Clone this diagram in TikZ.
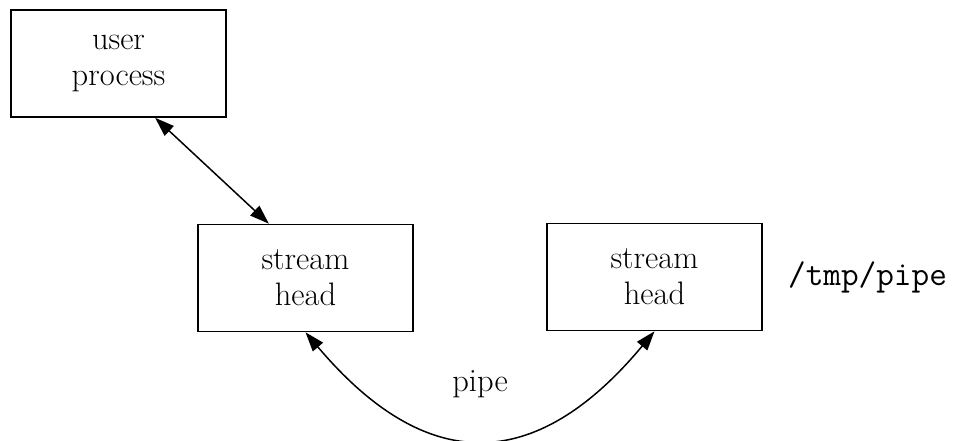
\documentclass[tikz,border=0pt]{standalone}
\usepackage{fontspec}
\usepackage{tikz}
\usetikzlibrary{arrows.meta,positioning}
\tikzset{
  box/.style={draw, line width=0.9pt, minimum width=4.3cm, minimum height=2.14cm, align=center, inner sep=0pt, font=\fontsize{18.5}{20.5}\selectfont},
  lbl/.style={font=\fontsize{18.5}{20.5}\selectfont},
  arr/.style={{Triangle[length=11pt,width=7.5pt]}-{Triangle[length=11pt,width=7.5pt]}, line width=0.85pt},
}
\begin{document}
\begin{tikzpicture}[x=0.02cm, y=-0.02cm]
\useasboundingbox (0,0) rectangle (953,440);
\node[box] (user) at (118.5,63.5) {user\\process};
\node[box] (head1) at (305.5,278) {stream\\head};
\node[box] (head2) at (654.5,277) {stream\\head};
\node[lbl, font=\fontsize{19.5}{20.5}\ttfamily, inner sep=0pt, right=0.5cm of head2] (path) {/tmp/pipe};
\node[lbl] (pipelbl) at (480,384) {pipe};
\draw[arr] (user.-56) -- (head1.124);
\draw[arr] (head1.south) .. controls +(120,142) and +(-120,144) .. (head2.south);
\end{tikzpicture}
\end{document}
